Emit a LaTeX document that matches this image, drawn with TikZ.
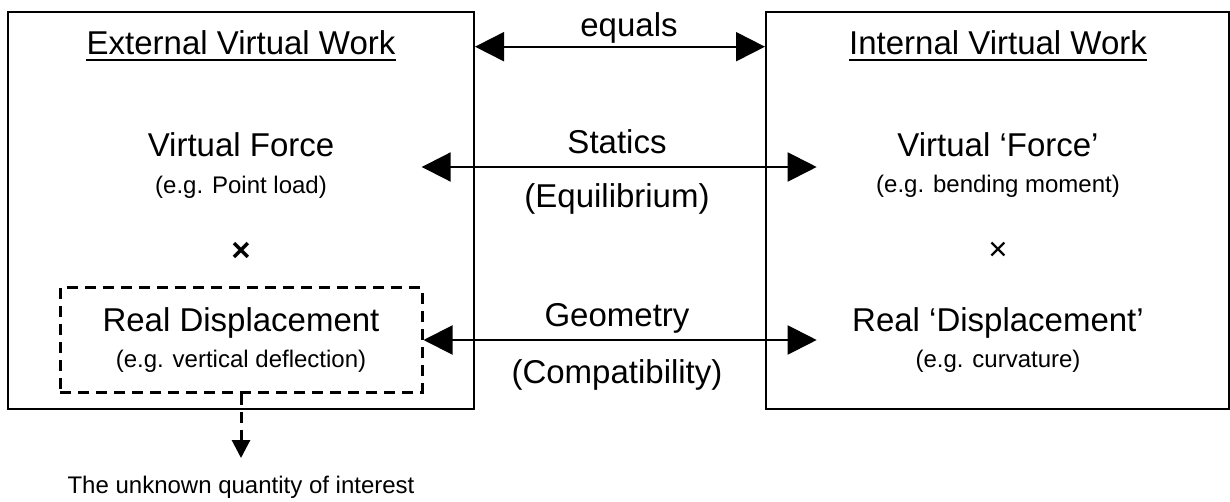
\documentclass[tikz,border=0pt]{standalone}
\usepackage{fontspec}
\setmainfont{Liberation Sans}
\usetikzlibrary{arrows.meta}

\tikzset{
  panel/.style={draw, line width=2pt, inner sep=0pt, minimum width=#1, minimum height=396pt},
  focus/.style={draw, dashed, dash pattern=on 11pt off 7pt, line width=3pt, inner sep=0pt,
                minimum width=362pt, minimum height=104pt},
  bigtext/.style={inner sep=0pt, anchor=base, font=\fontsize{33}{40}\selectfont},
  smalltext/.style={inner sep=0pt, anchor=base, font=\fontsize{24}{29}\selectfont},
  timesmark/.style={inner sep=0pt, anchor=center, font=\fontsize{33}{40}\selectfont},
  link/.style={line width=2pt, {Triangle[length=29pt,width=29pt]}-{Triangle[length=29pt,width=29pt]}},
  pointer/.style={line width=3pt, dash pattern=on 11pt off 7pt, -{Triangle[length=18pt,width=18pt]}},
  titlerule/.style={line width=2.5pt},
}

\begin{document}
\begin{tikzpicture}[x=1pt, y=-1pt]
  \useasboundingbox (0,0) rectangle (1230,502);

  % the two work panels
  \node[panel=466pt] (ext) at (241,210.5) {};
  \node[panel=463pt] (int) at (997.5,210.5) {};

  % external side
  \node[bigtext] (extTitle) at (241,55) {External Virtual Work};
  \draw[titlerule] ([yshift=-5pt]extTitle.base west) -- ([yshift=-5pt]extTitle.base east);
  \node[bigtext] (vf) at (241,157) {Virtual Force};
  \node[smalltext] (vfEx) at (241,194) {(e.g. Point load)};
  \node[timesmark] (extTimes) at (241,251.7) {\bfseries ×};
  \node[focus] (rd) at (241,340) {};
  \node[bigtext] (rdText) at (241,331.7) {Real Displacement};
  \node[smalltext] (rdEx) at (241,367) {(e.g. vertical deflection)};

  % internal side
  \node[bigtext] (intTitle) at (998,55) {Internal Virtual Work};
  \draw[titlerule] ([yshift=-5pt]intTitle.base west) -- ([yshift=-5pt]intTitle.base east);
  \node[bigtext] (vfi) at (998,157) {Virtual ‘Force’};
  \node[smalltext] (vfiEx) at (998,193) {(e.g. bending moment)};
  \node[timesmark] (intTimes) at (998,251.7) {×};
  \node[bigtext] (rdi) at (998,331.7) {Real ‘Displacement’};
  \node[smalltext] (rdiEx) at (998,367) {(e.g. curvature)};

  % links between the panels
  \coordinate (eqY) at (0,46.7);
  \draw[link] (ext.east |- eqY) -- (int.west |- eqY);
  \node[bigtext] (eqText) at (629,37) {equals};

  \coordinate (stL) at (421.7,167);
  \coordinate (stR) at (816.7,167);
  \draw[link] (stL) -- (stR);
  \node[bigtext] (stText) at (617,154) {Statics};
  \node[bigtext] (stSub) at (617,208) {(Equilibrium)};

  \coordinate (geR) at (816.7,340);
  \draw[link] (rd.east) -- (geR);
  \node[bigtext] (geText) at (617,326.7) {Geometry};
  \node[bigtext] (geSub) at (617,383) {(Compatibility)};

  % pointer to the unknown
  \coordinate (unk) at (241,458);
  \draw[pointer] (rd.south) -- (unk);
  \node[smalltext] (unkText) at (241,493) {The unknown quantity of interest};
\end{tikzpicture}
\end{document}
